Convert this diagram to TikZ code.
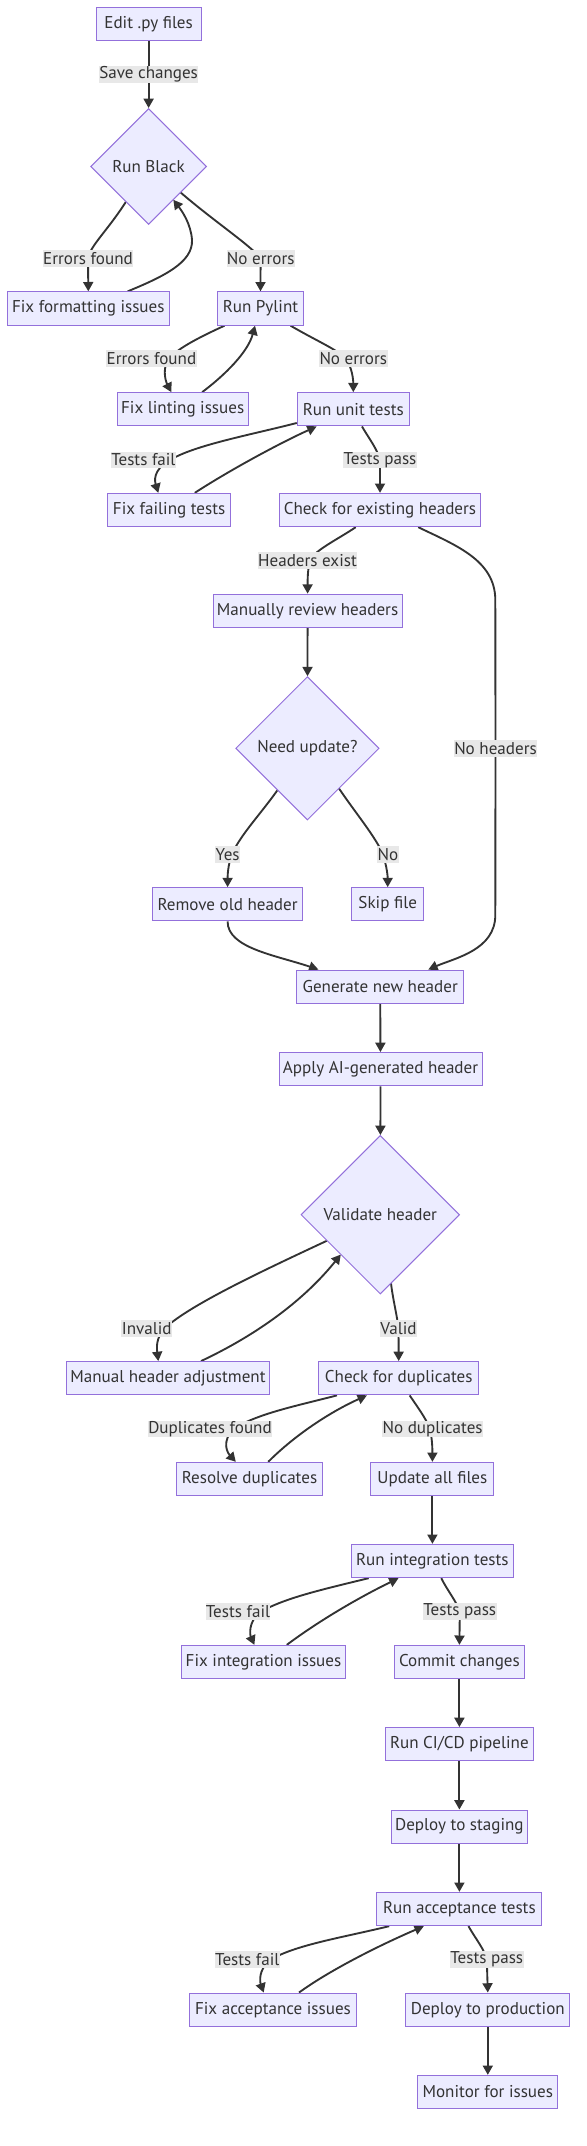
\documentclass[tikz,border=0pt]{standalone}
\usepackage{fontspec}
\setmainfont{PT Sans}
\usetikzlibrary{shapes.geometric,arrows.meta,calc,backgrounds}
\definecolor{nodefill}{HTML}{ECECFF}
\definecolor{nodeline}{HTML}{9370DB}
\definecolor{edgecol}{HTML}{333333}
\definecolor{labfill}{HTML}{E8E8E8}
\definecolor{txt}{HTML}{333333}
\tikzset{
  box/.style={rectangle, draw=nodeline, line width=0.75pt, fill=nodefill, minimum height=25pt,
    inner sep=0pt, text=txt, font=\fontsize{12.8}{15}\selectfont},
  bw/.style={minimum width=#1*0.75pt},
  decision/.style={diamond, aspect=1, draw=nodeline, line width=0.75pt, fill=nodefill, inner sep=0pt,
    text=txt, font=\fontsize{12.8}{15}\selectfont, minimum width=#1*0.75pt, minimum height=#1*0.75pt},
  lab/.style={fill=labfill, inner xsep=0.3pt, inner ysep=0pt, minimum height=12.5pt, text=txt,
    font=\fontsize{12.8}{15}\selectfont},
  conn/.style={draw=edgecol, line width=1.4pt, -{Triangle[length=7pt,width=7.5pt]}}
}
\begin{document}
\begin{tikzpicture}[x=0.75pt,y=-0.75pt]
\useasboundingbox (0,0) rectangle (586,2146);
% nodes
\node[box,bw=105] (edit) at (148.6,24.2) {Edit .py files};
\node[decision=116] (black) at (148.6,166.5) {Run Black};
\node[box,bw=162] (fixfmt) at (88.3,308.5) {Fix formatting issues};
\node[box,bw=86] (pylint) at (260.5,308.5) {Run Pylint};
\node[box,bw=130.7] (fixlint) at (182.7,409.3) {Fix linting issues};
\node[box,bw=112] (unit) at (353.3,409.3) {Run unit tests};
\node[box,bw=123.6] (fixfail) at (169.1,510) {Fix failing tests};
\node[box,bw=201.5] (check) at (380,510) {Check for existing headers};
\node[box,bw=189.2] (review) at (307.6,610.8) {Manually review headers};
\node[decision=143.4] (need) at (307.4,748.3) {Need update?};
\node[box,bw=149.7] (remove) at (227.6,904.3) {Remove old header};
\node[box,bw=72.2] (skip) at (387.7,904.3) {Skip file};
\node[box,bw=167.5] (gen) at (380.2,986.7) {Generate new header};
\node[box,bw=203] (apply) at (380.5,1069.2) {Apply AI-generated header};
\node[decision=158.6] (valid) at (380.3,1214.7) {Validate header};
\node[box,bw=203.3] (manual) at (168,1378.2) {Manual header adjustment};
\node[box,bw=159.8] (dup) at (398.7,1378.2) {Check for duplicates};
\node[box,bw=145.3] (resolve) at (249.5,1479) {Resolve duplicates};
\node[box,bw=122.9] (update) at (432.4,1479) {Update all files};
\node[box,bw=162.4] (integ) at (432.4,1561) {Run integration tests};
\node[box,bw=163.5] (fixinteg) at (263.5,1662) {Fix integration issues};
\node[box,bw=130.8] (commit) at (459.4,1662) {Commit changes};
\node[box,bw=148.2] (cicd) at (459.4,1744.2) {Run CI/CD pipeline};
\node[box,bw=136.7] (staging) at (459.4,1826.7) {Deploy to staging};
\node[box,bw=165] (accept) at (459.4,1909) {Run acceptance tests};
\node[box,bw=166.8] (fixacc) at (273,2009.7) {Fix acceptance issues};
\node[box,bw=164] (prod) at (487.8,2009.7) {Deploy to production};
\node[box,bw=139.7] (monitor) at (487.8,2092) {Monitor for issues};
% labels
\node[lab] (l1) at (148.6,74.7) {Save changes};
\node[lab] (l2) at (88,258.3) {Errors found};
\node[lab] (l3) at (260.7,258.3) {No errors};
\node[lab] (l4) at (151.4,358.3) {Errors found};
\node[lab] (l5) at (353.3,358.3) {No errors};
\node[lab] (l6) at (143.4,460) {Tests fail};
\node[lab] (l7) at (380,460) {Tests pass};
\node[lab] (l8) at (307.5,560.3) {Headers exist};
\node[lab] (l9) at (495.5,748.7) {No headers};
\node[lab] (l10) at (227.7,854.5) {Yes};
\node[lab] (l11) at (387.9,854.5) {No};
\node[lab] (l12) at (146.7,1328.3) {Invalid};
\node[lab] (l13) at (398.5,1328.3) {Valid};
\node[lab] (l14) at (210,1429) {Duplicates found};
\node[lab] (l15) at (432.6,1429) {No duplicates};
\node[lab] (l16) at (238,1611.7) {Tests fail};
\node[lab] (l17) at (459.8,1611.7) {Tests pass};
\node[lab] (l18) at (247.3,1959.7) {Tests fail};
\node[lab] (l19) at (486.8,1959.7) {Tests pass};
% edges
\begin{scope}[on background layer]
\draw[conn] (edit) -- (black);
\draw[conn] ($(black)+(-22.7,35.3)$) .. controls (108,230) and (90,246) .. (l2.center) -- (fixfmt.north);
\draw[conn] ($(fixfmt.north)+(39.4,0)$) .. controls (165,276) and (193,262) .. (192,240) .. controls (191,224) and (182,211) .. ($(black)+(24.7,33.3)$);
\draw[conn] ($(black)+(32,26)$) .. controls (215,222) and (250,245) .. (l3.center) .. controls (260.5,272) and (260.5,282) .. (pylint.north);
\draw[conn] ($(pylint.south)+(-36,0)$) .. controls (200,337) and (178,348) .. (170,358) .. controls (162,366) and (165,380) .. ($(fixlint.north)+(-11.4,0)$);
\draw[conn] ($(fixlint.north)+(19.5,0)$) .. controls (225,375) and (248,352) .. ($(pylint.south)+(-5.5,0)$);
\draw[conn] ($(pylint.south)+(30,0)$) .. controls (315,340) and (338,350) .. (345,358) .. controls (352,366) and (353.3,380) .. (unit.north);
\draw[conn] ($(unit.south west)+(0,-3.5)$) .. controls (250,435) and (195,445) .. (170,460) .. controls (152,470) and (155,482) .. ($(fixfail.north)+(-10.8,0)$);
\draw[conn] ($(fixfail.north)+(25.7,0)$) .. controls (230,470) and (280,443) .. ($(unit.south)+(-36.7,0)$);
\draw[conn] ($(unit.south)+(8.7,0)$) .. controls (368,437) and (378,450) .. (l7.center) -- (check.north);
\draw[conn] ($(check.south)+(-24.3,0)$) .. controls (340,538) and (315,550) .. (310,560) .. controls (307.6,570) and (307.6,580) .. (review.north);
\draw[conn] ($(check.south)+(38.2,0)$) .. controls (455,545) and (495.3,560) .. (495.3,600) -- (l9.center) -- (495.3,915) .. controls (495.3,950) and (455,958) .. ($(gen.north)+(48.1,0)$);
\draw[conn] (review) -- (need);
\draw[conn] ($(need)+(-29.9,41.8)$) .. controls (262,812) and (245,830) .. (235,848) .. controls (228,860) and (227.6,875) .. (remove.north);
\draw[conn] ($(need)+(31.6,40.2)$) .. controls (355,812) and (370,830) .. (380,848) .. controls (386,860) and (387.7,875) .. (skip.north);
\draw[conn] (remove.south) .. controls (227.6,948) and (275,955) .. ($(gen.north)+(-61.8,0)$);
\draw[conn] (gen) -- (apply);
\draw[conn] (apply) -- (valid);
\draw[conn] ($(valid)+(-53.3,26)$) .. controls (260,1272) and (190,1305) .. (165,1328) .. controls (155,1338) and (157,1350) .. ($(manual.north)+(-9.7,0)$);
\draw[conn] ($(manual.north)+(33.1,0)$) .. controls (250,1338) and (300,1305) .. ($(valid)+(-39.5,39.8)$);
\draw[conn] ($(valid)+(10.7,68.6)$) .. controls (393,1300) and (397,1315) .. (l13.center) -- (dup.north);
\draw[conn] ($(dup.south)+(-61.7,0)$) .. controls (300,1405) and (265,1412) .. (240,1425) .. controls (222,1435) and (225,1450) .. ($(resolve.north)+(-13.7,0)$);
\draw[conn] ($(resolve.north)+(18.7,0)$) .. controls (295,1435) and (330,1412) .. ($(dup.south)+(-31.8,0)$);
\draw[conn] ($(dup.south)+(11,0)$) .. controls (416,1405) and (426,1418) .. (430,1429) .. controls (432.4,1440) and (432.4,1450) .. (update.north);
\draw[conn] (update) -- (integ);
\draw[conn] ($(integ.south)+(-63.7,0)$) .. controls (320,1590) and (285,1598) .. (260,1612) .. controls (248,1622) and (250,1635) .. ($(fixinteg.north)+(-9.1,0)$);
\draw[conn] ($(fixinteg.north)+(23.3,0)$) .. controls (320,1620) and (360,1597) .. ($(integ.south)+(-33.9,0)$);
\draw[conn] ($(integ.south)+(8.9,0)$) .. controls (447,1590) and (457,1602) .. (l17.center) -- (commit.north);
\draw[conn] (commit) -- (cicd);
\draw[conn] (cicd) -- (staging);
\draw[conn] (staging) -- (accept);
\draw[conn] ($(accept.south)+(-70.2,0)$) .. controls (340,1938) and (295,1945) .. (270,1960) .. controls (258,1970) and (260,1982) .. ($(fixacc.north)+(-9.3,0)$);
\draw[conn] ($(fixacc.north)+(26,0)$) .. controls (330,1970) and (380,1945) .. ($(accept.south)+(-35.6,0)$);
\draw[conn] ($(accept.south)+(9.1,0)$) .. controls (475,1938) and (485,1950) .. (l19.center) -- (prod.north);
\draw[conn] (prod) -- (monitor);
\end{scope}
\end{tikzpicture}
\end{document}
